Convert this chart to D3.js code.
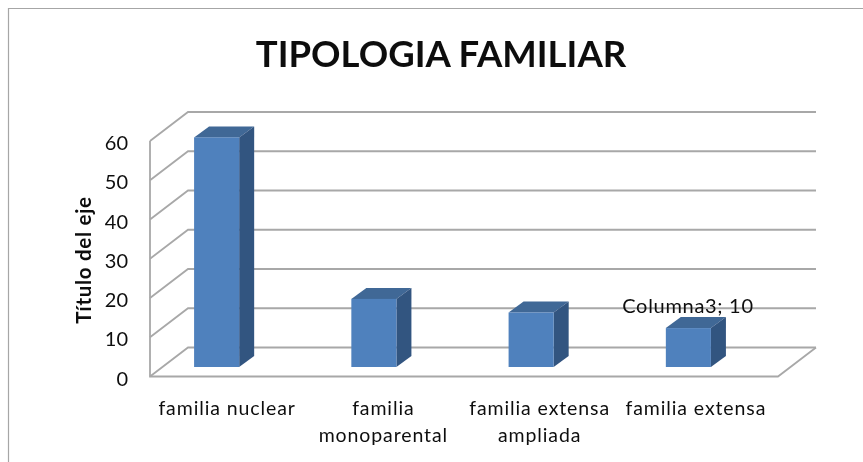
<!DOCTYPE html>
<html>
<head>
<meta charset="utf-8">
<script src="https://cdn.jsdelivr.net/npm/d3@7"></script>
<style>
html, body { margin: 0; padding: 0; background: #fff; }
svg { display: block; }
text { font-family: Lato, "Noto Sans", sans-serif; fill: #111; }
</style>
</head>
<body>
<script>
var width = 863;
var height = 462;

// chart data
var categories = ["familia nuclear", "familia monoparental", "familia extensa ampliada", "familia extensa"];
var categoryLines = [["familia nuclear"], ["familia", "monoparental"], ["familia extensa", "ampliada"], ["familia extensa"]];
var values = [59, 17.5, 14, 10];
var yTicks = [0, 10, 20, 30, 40, 50, 60];
var chartTitle = "TIPOLOGIA FAMILIAR";
var axisTitle = "Título del eje";
var dataLabel = "Columna3; 10";

// front plane of the fake 3d box
var left = 150, right = 778, bottom = 376.5, top_ = 141;
var depthX = 38, depthY = 29;
// bars sit part way into the box
var barFloor = 367, barDepthX = 15, barDepthY = 11;

var y = d3.scaleLinear().domain([0, 60]).range([bottom, top_]);
var barH = d3.scaleLinear().domain([0, 60]).range([0, 233.5]);
var xBars = d3.scaleBand().domain(categories).range([138, 767]).paddingInner(112 / 157).paddingOuter(56 / 157);
var xLabels = d3.scaleBand().domain(categories).range([149, 774]);

var svg = d3.select("body").append("svg").attr("width", width).attr("height", height);

var defs = svg.append("defs");
defs.append("filter").attr("id", "soft").append("feGaussianBlur").attr("stdDeviation", 0.45);
defs.append("filter").attr("id", "softText").append("feGaussianBlur").attr("stdDeviation", 0.3);

// outer frame, only top and left show in the picture
svg.append("path")
  .attr("d", "M8.5," + height + "V8.5H" + width)
  .attr("fill", "none").attr("stroke", "#a6a6a6").attr("stroke-width", 1.2);

// walls and gridlines
var grid = svg.append("g").attr("filter", "url(#soft)")
  .attr("fill", "none").attr("stroke", "#a8a8a8").attr("stroke-width", 1.8);

grid.selectAll("path.tick-line").data(yTicks).enter().append("path")
  .attr("class", "tick-line")
  .attr("d", function(d) {
    return "M" + left + "," + y(d) + "L" + (left + depthX) + "," + (y(d) - depthY) + "H" + (right + depthX);
  });

grid.append("path").attr("d", "M" + left + "," + y(60) + "V" + bottom + "H" + right + "L" + (right + depthX) + "," + (bottom - depthY));

// bars
var bars = svg.append("g").attr("filter", "url(#soft)").selectAll("g").data(values).enter().append("g");

function barX(i) { return xBars(categories[i]); }
var barW = xBars.bandwidth();

bars.append("path").attr("fill", "#3f6796").attr("d", function(d, i) {
  var x0 = barX(i), yt = barFloor - barH(d);
  return "M" + x0 + "," + yt + "l" + barDepthX + "," + (-barDepthY) + "h" + barW + "l" + (-barDepthX) + "," + barDepthY + "z";
});
bars.append("path").attr("fill", "#325480").attr("d", function(d, i) {
  var x1 = barX(i) + barW, yt = barFloor - barH(d);
  return "M" + x1 + "," + yt + "l" + barDepthX + "," + (-barDepthY) + "V" + (barFloor - barDepthY) + "l" + (-barDepthX) + "," + barDepthY + "z";
});
bars.append("rect")
  .attr("x", function(d, i) { return barX(i); })
  .attr("y", function(d) { return barFloor - barH(d); })
  .attr("width", barW)
  .attr("height", function(d) { return barH(d); })
  .attr("fill", "#4f81bd");

var labels = svg.append("g").attr("filter", "url(#softText)");

// y tick labels
labels.append("g").selectAll("text").data(yTicks).enter().append("text")
  .attr("x", 128).attr("y", function(d) { return y(d) + 9; })
  .attr("text-anchor", "end").attr("font-size", 20)
  .text(function(d) { return d; });

// category labels
var catLabels = labels.append("g").selectAll("text").data(categories).enter().append("text")
  .attr("text-anchor", "middle").attr("font-size", 19.5).attr("letter-spacing", 0.9);
catLabels.selectAll("tspan").data(function(d, i) { return categoryLines[i].map(function(t) { return { t: t, c: d }; }); })
  .enter().append("tspan")
  .attr("x", function(d) { return xLabels(d.c) + xLabels.bandwidth() / 2; })
  .attr("y", function(d, i) { return 414.5 + i * 27.5; })
  .text(function(d) { return d.t; });

labels.append("text")
  .attr("transform", "translate(91,260) rotate(-90)")
  .attr("text-anchor", "middle").attr("font-size", 20.5).attr("font-weight", 700).attr("letter-spacing", 0.7)
  .text(axisTitle);

labels.append("text")
  .attr("x", 441).attr("y", 67)
  .attr("text-anchor", "middle").attr("font-size", 36.5).attr("font-weight", 700)
  .text(chartTitle);

labels.append("text")
  .attr("x", 688).attr("y", 313)
  .attr("text-anchor", "middle").attr("font-size", 20).attr("letter-spacing", 0.7)
  .text(dataLabel);
</script>
</body>
</html>
